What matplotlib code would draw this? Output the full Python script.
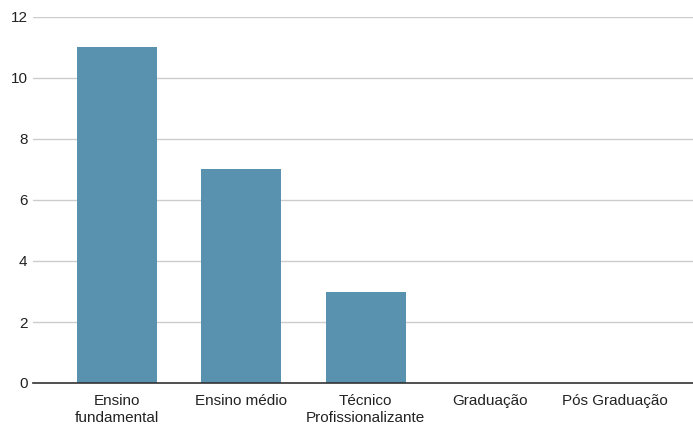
import matplotlib.pyplot as plt

categorias = ['Ensino\nfundamental', 'Ensino médio', 'Técnico\nProfissionalizante', 'Graduação', 'Pós Graduação']
valores = [11, 7, 3, 0, 0]
y_ticks = [0, 2, 4, 6, 8, 10, 12]

plt.rcParams['font.family'] = ['Liberation Sans', 'DejaVu Sans']

fig = plt.figure(figsize=(6.93, 4.25), dpi=100)
ax = fig.add_axes([33 / 693, 1 - 383 / 425, 660 / 693, 366 / 425])

x = range(len(categorias))
ax.bar(x, valores, width=0.643, color='#5892ae', zorder=3)

ax.set_xlim(-0.675, 4.63)
ax.set_ylim(0, 12)
ax.set_yticks(y_ticks)
ax.set_xticks(list(x))
ax.set_xticklabels(categorias, fontsize=11, color='#222222', linespacing=1.25)
ax.tick_params(axis='y', labelsize=11, colors='#222222', length=0, pad=4)
ax.tick_params(axis='x', length=0, pad=8)

ax.grid(axis='y', color='#cccccc', linewidth=1, zorder=0)
for s in ['top', 'right', 'left']:
    ax.spines[s].set_visible(False)
ax.spines['bottom'].set_color('#333333')
ax.spines['bottom'].set_linewidth(1.2)
ax.spines['bottom'].set_zorder(4)

fig.savefig('out.png', dpi=100)
